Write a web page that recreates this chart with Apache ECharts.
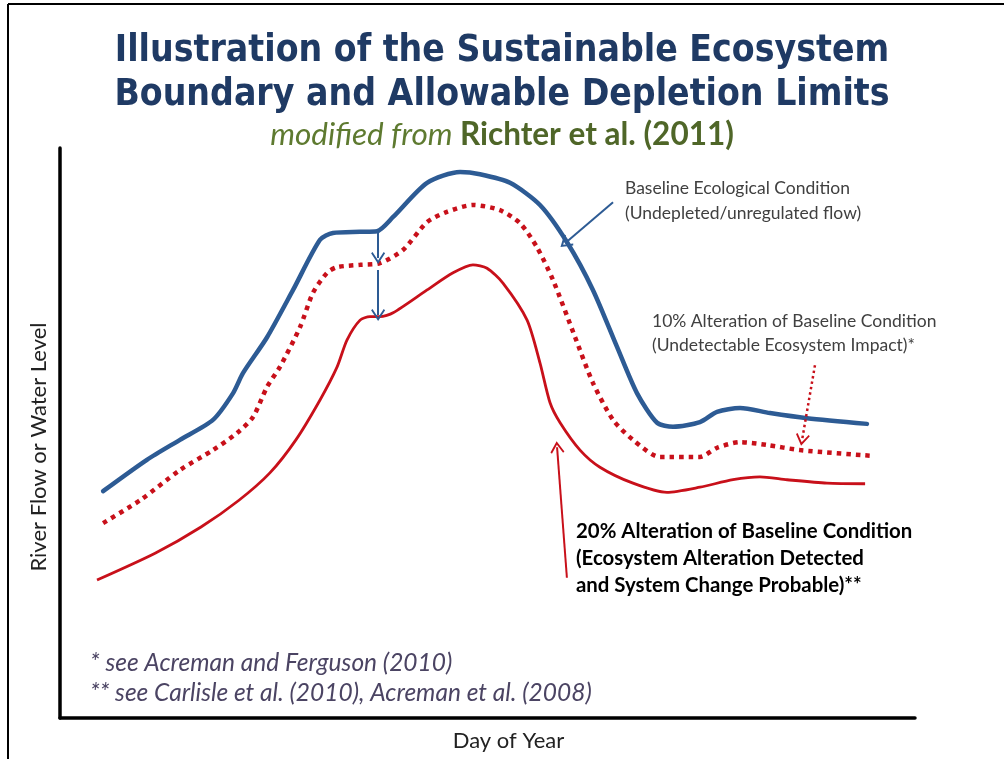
<!DOCTYPE html>
<html>
<head>
<meta charset="utf-8">
<title>Sustainable Ecosystem Boundary</title>
<script src="https://cdn.jsdelivr.net/npm/echarts@6/dist/echarts.min.js"></script>
<style>
  html, body { margin: 0; padding: 0; background: #fff; }
  #chart { width: 1004px; height: 759px; }
</style>
</head>
<body>
<div id="chart"></div>
<script>
// x = day of year (0-365), y = relative flow / level (0-100)
const baselineDay  = [18.4, 37.1, 51.2, 65.3, 73.9, 78.1, 88.4, 99.5, 111.0, 116.5, 128.1, 135.3, 142.2, 156.7, 170.8, 179.3, 192.1, 204.9, 216.4, 227.5, 237.8, 246.3, 254.9, 261.7, 273.2, 280.5, 290.3, 303.1, 318.9, 344.5];
const baselineFlow = [39.8, 45.3, 48.8, 52.3, 57.0, 60.5, 66.8, 75.1, 83.9, 85.1, 85.3, 85.4, 87.9, 93.9, 95.8, 95.4, 93.9, 90.0, 83.5, 75.1, 65.1, 57.0, 51.8, 51.1, 51.9, 53.7, 54.4, 53.5, 52.6, 51.6];

const tenPctDay  = [18.4, 34.2, 51.2, 65.3, 75.6, 82.4, 88.4, 93.9, 102.5, 108.0, 114.0, 118.3, 128.1, 136.6, 146.4, 156.7, 165.2, 176.3, 187.8, 196.4, 203.6, 210.5, 219.9, 227.5, 236.1, 244.6, 256.1, 273.2, 280.5, 290.3, 301.8, 315.9, 346.6];
const tenPctFlow = [34.2, 38.2, 43.5, 47.0, 50.0, 52.8, 58.1, 61.6, 68.6, 74.6, 78.1, 79.1, 79.5, 79.8, 82.1, 87.0, 88.8, 90.0, 89.1, 86.8, 82.6, 76.8, 66.8, 58.8, 52.3, 48.8, 45.8, 45.8, 47.4, 48.4, 47.9, 47.0, 46.0];

const twentyPctDay  = [15.8, 40.6, 60.2, 76.4, 89.6, 100.7, 111.0, 118.3, 122.5, 128.1, 132.3, 136.6, 142.2, 156.7, 167.8, 176.3, 182.3, 189.1, 199.4, 204.9, 209.2, 213.5, 222.0, 230.5, 244.6, 259.1, 273.2, 287.3, 298.8, 310.4, 327.4, 343.7];
const twentyPctFlow = [24.2, 28.9, 33.5, 38.2, 43.0, 48.8, 55.8, 61.6, 66.3, 69.8, 70.4, 70.4, 71.1, 75.1, 78.1, 79.5, 78.9, 76.3, 69.8, 62.3, 55.3, 51.8, 47.0, 44.0, 41.2, 39.6, 40.5, 41.8, 42.3, 41.8, 41.2, 41.1];

// annotation arrows: [fromDay, fromFlow, toDay, toFlow]
const baselineArrow = [236.1, 90.5, 215.6, 83.3];
const dropArrows = [
  [135.8, 85.3, 135.8, 80.7],
  [135.8, 78.6, 135.8, 70.7]
];
const tenPctArrow = [322.3, 61.9, 316.8, 48.8];
const twentyPctArrow = [216.4, 24.6, 212.2, 47.5];

const BLUE = "#2d5b94";
const RED = "#c8101a";
const chevron = "path://M0,0 L7,9 L5.6,10 L0,3 L-5.6,10 L-7,9 Z";

function zip(xs, ys) {
  return xs.map((x, i) => [x, ys[i]]);
}

function arrow(a) {
  return [{ coord: [a[0], a[1]] }, { coord: [a[2], a[3]] }];
}

const bodyFont = "Lato, 'Open Sans', sans-serif";

const option = {
  backgroundColor: "#fff",
  animation: false,
  title: [
    {
      text: "Illustration of the Sustainable Ecosystem\nBoundary and Allowable Depletion Limits",
      left: "center",
      top: 24,
      textStyle: {
        fontFamily: "'Liberation Sans Narrow', 'DejaVu Sans Condensed', Roboto, sans-serif",
        fontWeight: "bold",
        fontSize: 37,
        lineHeight: 44,
        color: "#1f3a64"
      }
    },
    {
      text: "{a|modified from }{b|Richter et al. (2011)}",
      left: "center",
      top: 114,
      textStyle: {
        rich: {
          a: { fontFamily: bodyFont, fontStyle: "italic", fontWeight: "normal", fontSize: 31.5, color: "#5e7a30" },
          b: { fontFamily: bodyFont, fontWeight: "bold", fontSize: 31.5, color: "#4f6628" }
        }
      }
    }
  ],
  grid: { left: 60, right: 89, top: 148, bottom: 41, containLabel: false },
  xAxis: {
    type: "value",
    min: 0,
    max: 365,
    name: "Day of Year",
    nameLocation: "middle",
    nameGap: 12,
    nameTextStyle: { fontFamily: bodyFont, fontSize: 22, color: "#222", padding: [0, 0, 0, 42] },
    axisLine: { show: true, lineStyle: { color: "#000", width: 3.5 } },
    axisTick: { show: false },
    axisLabel: { show: false },
    splitLine: { show: false }
  },
  yAxis: {
    type: "value",
    min: 0,
    max: 100,
    name: "River Flow or Water Level",
    nameLocation: "middle",
    nameGap: 10,
    nameTextStyle: { fontFamily: bodyFont, fontSize: 22, color: "#222", padding: [0, 28, 0, 0] },
    axisLine: { show: true, lineStyle: { color: "#000", width: 3.5 } },
    axisTick: { show: false },
    axisLabel: { show: false },
    splitLine: { show: false }
  },
  series: [
    {
      name: "Baseline Ecological Condition",
      type: "line",
      data: zip(baselineDay, baselineFlow),
      smooth: 0.25,
      showSymbol: false,
      lineStyle: { color: BLUE, width: 4.5, cap: "round" },
      markLine: {
        silent: true,
        symbol: ["none", chevron],
        symbolSize: [14, 12],
        label: { show: false },
        lineStyle: { color: BLUE, width: 2, type: "solid" },
        data: [arrow(baselineArrow), arrow(dropArrows[0]), arrow(dropArrows[1])]
      }
    },
    {
      name: "10% Alteration",
      type: "line",
      data: zip(tenPctDay, tenPctFlow),
      smooth: 0.25,
      showSymbol: false,
      lineStyle: { color: RED, width: 4.5, type: [4.5, 5] },
      markLine: {
        silent: true,
        symbol: ["none", chevron],
        symbolSize: [14, 12],
        label: { show: false },
        lineStyle: { color: RED, width: 2.5, type: [2.5, 3] },
        data: [arrow(tenPctArrow)]
      }
    },
    {
      name: "20% Alteration",
      type: "line",
      data: zip(twentyPctDay, twentyPctFlow),
      smooth: 0.25,
      showSymbol: false,
      lineStyle: { color: RED, width: 2.8 },
      markLine: {
        silent: true,
        symbol: ["none", chevron],
        symbolSize: [14, 12],
        label: { show: false },
        lineStyle: { color: RED, width: 2, type: "solid" },
        data: [arrow(twentyPctArrow)]
      }
    }
  ],
  graphic: [
    // picture frame
    { type: "line", shape: { x1: 8, y1: 4, x2: 1004, y2: 4 }, style: { stroke: "#000", lineWidth: 2 } },
    { type: "line", shape: { x1: 8, y1: 4, x2: 8, y2: 759 }, style: { stroke: "#000", lineWidth: 2 } },
    {
      type: "text", left: 625, top: 176,
      style: {
        text: "Baseline Ecological Condition\n(Undepleted/unregulated flow)",
        font: "17.5px " + bodyFont, fill: "#404040", lineHeight: 25
      }
    },
    {
      type: "text", left: 652, top: 309,
      style: {
        text: "10% Alteration of Baseline Condition\n(Undetectable Ecosystem Impact)*",
        font: "17.5px " + bodyFont, fill: "#404040", lineHeight: 24
      }
    },
    {
      type: "text", left: 576, top: 521,
      style: {
        text: "{b|20% Alteration of Baseline Condition}\n{b|(Ecosystem Alteration Detected}\n{b|and System Change Probable)}{s|**}",
        rich: {
          b: { fontFamily: bodyFont, fontWeight: "bold", fontSize: 20.4, color: "#1a1a1a", lineHeight: 27 },
          s: { fontFamily: bodyFont, fontWeight: "bold", fontSize: 20.4, color: "#8a8a9a", lineHeight: 27 }
        }
      }
    },
    {
      type: "text", left: 90, top: 648,
      style: {
        text: "* see Acreman and Ferguson (2010)\n** see Carlisle et al. (2010), Acreman et al. (2008)",
        font: "italic 24.5px " + bodyFont, fill: "#4b4463", lineHeight: 30
      }
    }
  ]
};

const chart = echarts.init(document.getElementById("chart"));
chart.setOption(option);
</script>
</body>
</html>
